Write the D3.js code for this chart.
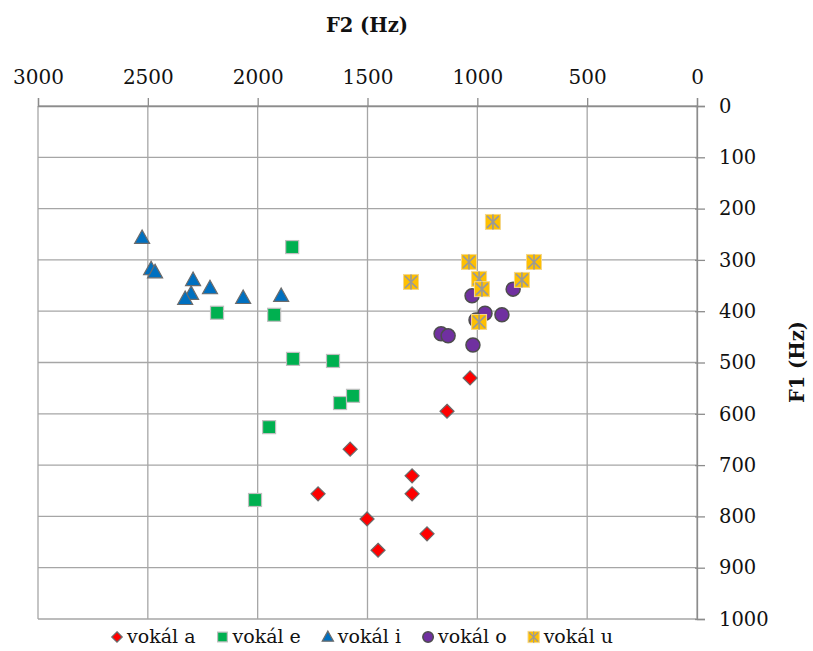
<!DOCTYPE html>
<html><head><meta charset="utf-8">
<script src="https://cdn.jsdelivr.net/npm/d3@7"></script>
<style>
html,body{margin:0;padding:0;background:#fff;}
svg{display:block;font-family:"DejaVu Serif",serif;}
</style></head>
<body><svg id="c" width="813" height="651"></svg>
<script>
// F2 (Hz), F1 (Hz)
const seriesNames = ["vokál a","vokál e","vokál i","vokál o","vokál u"];
const aF2 = [1033,1138,1579,1297,1297,1725,1502,1229,1452];
const aF1 = [530,595,669,721,756,756,805,834,866];
const eF2 = [1843,2185,1925,1839,1657,1625,1566,1948,2012];
const eF1 = [275,403,407,493,497,579,565,626,768];
const iF2 = [2526,2485,2467,2294,2303,2330,2217,2066,1893];
const iF1 = [257,318,324,339,366,376,355,374,370];
const oF2 = [1024,837,965,888,1165,1133,1020,1006];
const oF1 = [370,357,404,407,444,448,466,417];
const uF2 = [929,1038,742,1302,797,992,979,992];
const uF1 = [226,304,304,343,339,337,357,421];
const xTicks = [3000,2500,2000,1500,1000,500,0];
const yTicks = [0,100,200,300,400,500,600,700,800,900,1000];

const svg = d3.select("#c");
const x = d3.scaleLinear().domain([3000,0]).range([38,697]);
const y = d3.scaleLinear().domain([0,1000]).range([106,619]);

// grid
const g = svg.append("g");
g.selectAll("line.h").data(yTicks).join("line")
  .attr("x1",x(3000)).attr("x2",x(0)).attr("y1",d=>y(d)).attr("y2",d=>y(d))
  .attr("stroke","#a6a6a6").attr("stroke-width",1.3);
g.selectAll("line.v").data(xTicks).join("line")
  .attr("y1",y(0)).attr("y2",y(1000)).attr("x1",d=>x(d)).attr("x2",d=>x(d))
  .attr("stroke","#a6a6a6").attr("stroke-width",1.3);

// top axis
const xa = svg.append("g").attr("transform",`translate(0,${y(0)})`)
  .call(d3.axisTop(x).tickValues(xTicks).tickSize(8).tickPadding(14).tickFormat(d3.format("d")));
xa.select(".domain").attr("stroke","#8c8c8c").attr("stroke-width",1.3);
xa.selectAll(".tick line").attr("stroke","#8c8c8c").attr("stroke-width",1.3);
xa.selectAll("text").attr("font-family","DejaVu Serif").attr("font-size",20).attr("fill","#111");

// right axis
const ya = svg.append("g").attr("transform",`translate(${x(0)},0)`)
  .call(d3.axisRight(y).tickValues(yTicks).tickSize(8).tickPadding(14).tickFormat(d3.format("d")));
ya.select(".domain").attr("stroke","#8c8c8c").attr("stroke-width",1.3);
ya.selectAll(".tick line").attr("stroke","#8c8c8c").attr("stroke-width",1.3).attr("x1",-2);
ya.selectAll("text").attr("font-family","DejaVu Serif").attr("font-size",19.5).attr("fill","#111");

// titles
svg.append("text").attr("x",367).attr("y",32).attr("text-anchor","middle")
  .attr("font-weight","bold").attr("font-size",19.5).attr("fill","#111").text("F2 (Hz)");
svg.append("text").attr("transform","translate(804,362) rotate(-90)").attr("text-anchor","middle")
  .attr("font-weight","bold").attr("font-size",19.5).attr("fill","#111").text("F1 (Hz)");

const styles = [
  {fill:"#FF0000", stroke:"#6b6b6b", sw:1.2},
  {fill:"#00B050", stroke:"#bfbfbf", sw:1.2},
  {fill:"#0070C0", stroke:"#6b6b6b", sw:1.2},
  {fill:"#7030A0", stroke:"#4d4d4d", sw:1.5},
  {fill:"#FFC000", stroke:"#f5d78a", sw:1}
];
function marker(parent, k, cx, cy, s){
  const st = styles[k];
  const grp = parent.append("g").attr("transform",`translate(${cx},${cy})`);
  if(k===0){
    const h = 7*s;
    grp.append("path").attr("d",`M0,${-h}L${h},0L0,${h}L${-h},0Z`)
      .attr("fill",st.fill).attr("stroke",st.stroke).attr("stroke-width",st.sw);
  } else if(k===1){
    const h = 6.5*s;
    grp.append("rect").attr("x",-h).attr("y",-h).attr("width",2*h).attr("height",2*h)
      .attr("fill",st.fill).attr("stroke",st.stroke).attr("stroke-width",st.sw);
  } else if(k===2){
    const h = 7.5*s;
    grp.append("path").attr("d",`M0,${-h*1.05}L${h},${h*0.75}L${-h},${h*0.75}Z`)
      .attr("fill",st.fill).attr("stroke",st.stroke).attr("stroke-width",st.sw);
  } else if(k===3){
    grp.append("circle").attr("r",7*s)
      .attr("fill",st.fill).attr("stroke",st.stroke).attr("stroke-width",st.sw);
  } else {
    const h = 7.5*s;
    grp.append("rect").attr("x",-h).attr("y",-h).attr("width",2*h).attr("height",2*h)
      .attr("fill",st.fill).attr("stroke",st.stroke).attr("stroke-width",st.sw);
    const a = h*0.8;
    grp.append("path").attr("d",`M${-a},${-a}L${a},${a}M${-a},${a}L${a},${-a}M0,${-h}L0,${h}`)
      .attr("stroke","#999999").attr("stroke-width",1.6*Math.max(s,0.7)).attr("fill","none");
  }
}

const series = [[aF2,aF1],[eF2,eF1],[iF2,iF1],[oF2,oF1],[uF2,uF1]];
const pts = svg.append("g");
series.forEach((sr,k)=>{
  sr[0].forEach((f2,i)=>marker(pts,k,x(f2),y(sr[1][i]),1));
});

// legend
const lg = svg.append("g");
let lx = 111;
const ly = 637;
seriesNames.forEach((n,k)=>{
  marker(lg,k,lx+6,ly,0.75);
  const t = lg.append("text").attr("x",lx+16).attr("y",ly+6).attr("font-size",19).attr("fill","#111").text(n);
  lx += 16 + t.node().getComputedTextLength() + 21;
});
</script></body></html>
